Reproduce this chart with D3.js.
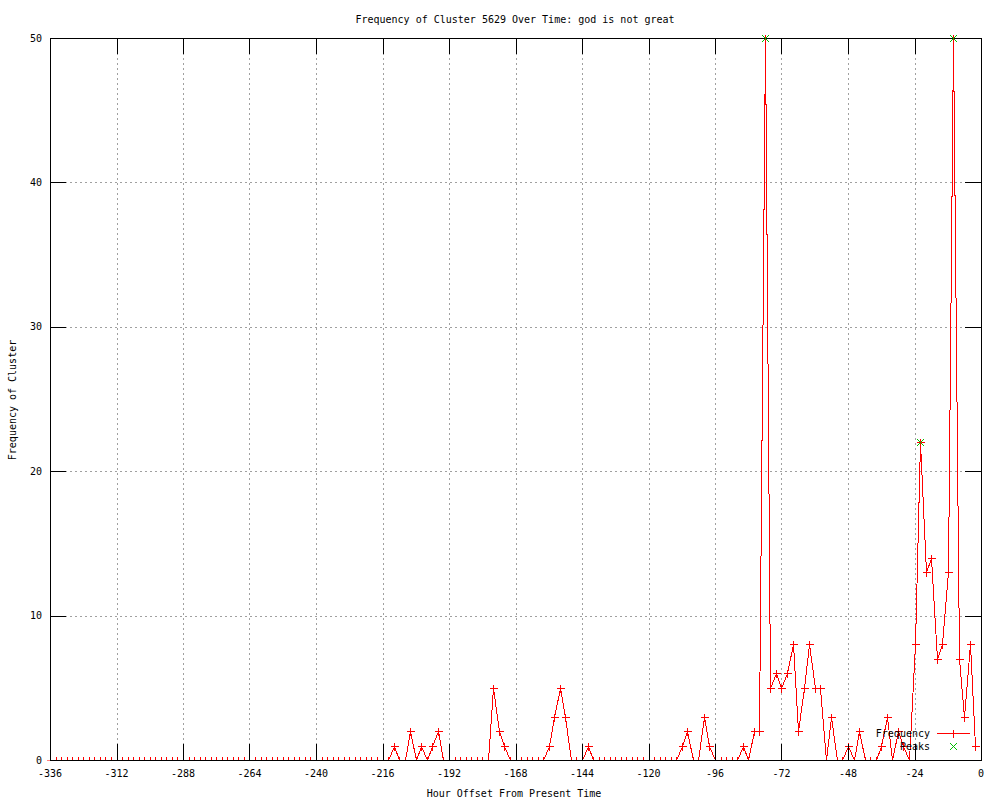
<!DOCTYPE html>
<html>
<head>
<meta charset="utf-8">
<script src="https://cdn.jsdelivr.net/npm/d3@7"></script>
<style>
  html, body { margin: 0; padding: 0; background: #fff; }
  svg { display: block; }
  text { font-family: "DejaVu Sans Mono", "Liberation Mono", monospace; font-size: 10px; fill: #000; }
</style>
</head>
<body>
<script>
// ---- data ----
const titleText = "Frequency of Cluster 5629 Over Time: god is not great";
const xLabelText = "Hour Offset From Present Time";
const yLabelText = "Frequency of Cluster";

// hours offset, one sample every 2 hours
const hours = d3.range(-336, 0, 2);
const frequency = [
  // -336 .. -214
  0,0,0,0,0,0,0,0,0,0, 0,0,0,0,0,0,0,0,0,0,
  0,0,0,0,0,0,0,0,0,0, 0,0,0,0,0,0,0,0,0,0,
  0,0,0,0,0,0,0,0,0,0, 0,0,0,0,0,0,0,0,0,0,
  0,0,
  // -212 .. -196
  1,0,0,2,0,1,0,1,2,
  // -194 .. -178
  0,0,0,0,0,0,0,0,0,
  // -176 .. -172
  5,2,1,
  // -170 .. -158
  0,0,0,0,0,0,0,
  // -156 .. -150
  1,3,5,3,
  // -148 .. -144
  0,0,0,
  // -142
  1,
  // -140 .. -110
  0,0,0,0,0,0,0,0,0,0,0,0,0,0,0,0,
  // -108 .. -98
  1,2,0,0,3,1,
  // -96 .. -88
  0,0,0,0,0,
  // -86 .. -2
  1,0,2,2,50,5,6,5,6,8,2,5,8,5,5,0,3,0,0,1,0,2,0,0,0,1,3,0,2,1,0,
  8,22,13,14,7,8,13,50,7,3,8,1
];
const peakHours = [-78, -22, -10];
const peakValues = [50, 22, 50];

const xTicks = [-336, -312, -288, -264, -240, -216, -192, -168, -144, -120, -96, -72, -48, -24, 0];
const xTickLabels = ["-336","-312","-288","-264","-240","-216","-192","-168","-144","-120","-96","-72","-48","-24","0"];
const yTicks = [0, 10, 20, 30, 40, 50];
const yTickLabels = ["0","10","20","30","40","50"];

const legendNames = ["Frequency", "Peaks"];

// ---- layout ----
const W = 1000, H = 800;
const mLeft = 50, mRight = 981, mTop = 38, mBottom = 760;
const tickLen = 16;

const svg = d3.select("body").append("svg").attr("width", W).attr("height", H);

const x = d3.scaleLinear().domain([-336, 0]).range([mLeft, mRight]);
const y = d3.scaleLinear().domain([0, 50]).range([mBottom, mTop]);

// grid
const grid = svg.append("g").attr("stroke", "#a0a0a0").attr("stroke-width", 1)
  .attr("stroke-dasharray", "2,3").attr("shape-rendering", "crispEdges");
xTicks.slice(1, -1).forEach(t => {
  grid.append("line").attr("x1", Math.round(x(t)) + 0.5).attr("x2", Math.round(x(t)) + 0.5)
    .attr("y1", mTop).attr("y2", mBottom);
});
yTicks.slice(1, -1).forEach(t => {
  grid.append("line").attr("y1", Math.round(y(t)) + 0.5).attr("y2", Math.round(y(t)) + 0.5)
    .attr("x1", mLeft).attr("x2", mRight);
});

// clip (bottom only)
svg.append("clipPath").attr("id", "clip").append("rect")
  .attr("x", 0).attr("y", 0).attr("width", W).attr("height", mBottom + 0.5);

const series = hours.map((h, i) => ({ h, v: frequency[i] }));

const dataG = svg.append("g").attr("clip-path", "url(#clip)").attr("shape-rendering", "crispEdges");
dataG.append("path").datum(series)
  .attr("fill", "none").attr("stroke", "#ff0000").attr("stroke-width", 1)
  .attr("d", d3.line().x(d => Math.round(x(d.h)) + 0.5).y(d => Math.round(y(d.v)) + 0.5));

function plus(g, cx, cy, s, color) {
  cx = Math.round(cx) + 0.5; cy = Math.round(cy) + 0.5;
  g.append("path").attr("d", `M${cx - s},${cy}H${cx + s}M${cx},${cy - s}V${cy + s}`)
    .attr("stroke", color).attr("stroke-width", 1).attr("fill", "none")
    .attr("shape-rendering", "crispEdges");
}
function cross(g, cx, cy, s, color) {
  cx = Math.round(cx) + 0.5; cy = Math.round(cy) + 0.5;
  g.append("path").attr("d", `M${cx - s},${cy - s}L${cx + s},${cy + s}M${cx - s},${cy + s}L${cx + s},${cy - s}`)
    .attr("stroke", color).attr("stroke-width", 1).attr("fill", "none")
    .attr("shape-rendering", "crispEdges");
}
series.forEach(d => plus(dataG, x(d.h), y(d.v), 4, "#ff0000"));

// border and ticks
const axG = svg.append("g").attr("stroke", "#000").attr("stroke-width", 1).attr("shape-rendering", "crispEdges");
axG.append("rect").attr("x", mLeft + 0.5).attr("y", mTop + 0.5)
  .attr("width", mRight - mLeft).attr("height", mBottom - mTop).attr("fill", "none");
xTicks.forEach(t => {
  const px = Math.round(x(t)) + 0.5;
  axG.append("line").attr("x1", px).attr("x2", px).attr("y1", mBottom).attr("y2", mBottom - tickLen);
  axG.append("line").attr("x1", px).attr("x2", px).attr("y1", mTop).attr("y2", mTop + tickLen);
});
yTicks.forEach(t => {
  const py = Math.round(y(t)) + 0.5;
  axG.append("line").attr("y1", py).attr("y2", py).attr("x1", mLeft).attr("x2", mLeft + tickLen);
  axG.append("line").attr("y1", py).attr("y2", py).attr("x1", mRight).attr("x2", mRight - tickLen);
});

// tick labels
xTicks.forEach((t, i) => {
  svg.append("text").attr("x", x(t)).attr("y", 777).attr("text-anchor", "middle").text(xTickLabels[i]);
});
yTicks.forEach((t, i) => {
  svg.append("text").attr("x", 42).attr("y", y(t) + 3.5).attr("text-anchor", "end").text(yTickLabels[i]);
});

// titles
svg.append("text").attr("x", 515).attr("y", 23).attr("text-anchor", "middle").text(titleText);
svg.append("text").attr("x", 514).attr("y", 797).attr("text-anchor", "middle").text(xLabelText);
svg.append("text").attr("transform", "translate(16,400) rotate(-90)").attr("text-anchor", "middle").text(yLabelText);

// peaks
const peakG = svg.append("g");
peakHours.forEach((h, i) => cross(peakG, x(h), y(peakValues[i]), 3.5, "#00c000"));

// legend
const lg = svg.append("g");
lg.append("text").attr("x", 930).attr("y", 737).attr("text-anchor", "end").text(legendNames[0]);
lg.append("line").attr("x1", 937).attr("x2", 970).attr("y1", 733.5).attr("y2", 733.5)
  .attr("stroke", "#ff0000").attr("stroke-width", 1).attr("shape-rendering", "crispEdges");
plus(lg, 953, 733, 4, "#ff0000");
lg.append("text").attr("x", 930).attr("y", 750).attr("text-anchor", "end").text(legendNames[1]);
cross(lg, 953, 746, 3.5, "#00c000");
</script>
</body>
</html>
